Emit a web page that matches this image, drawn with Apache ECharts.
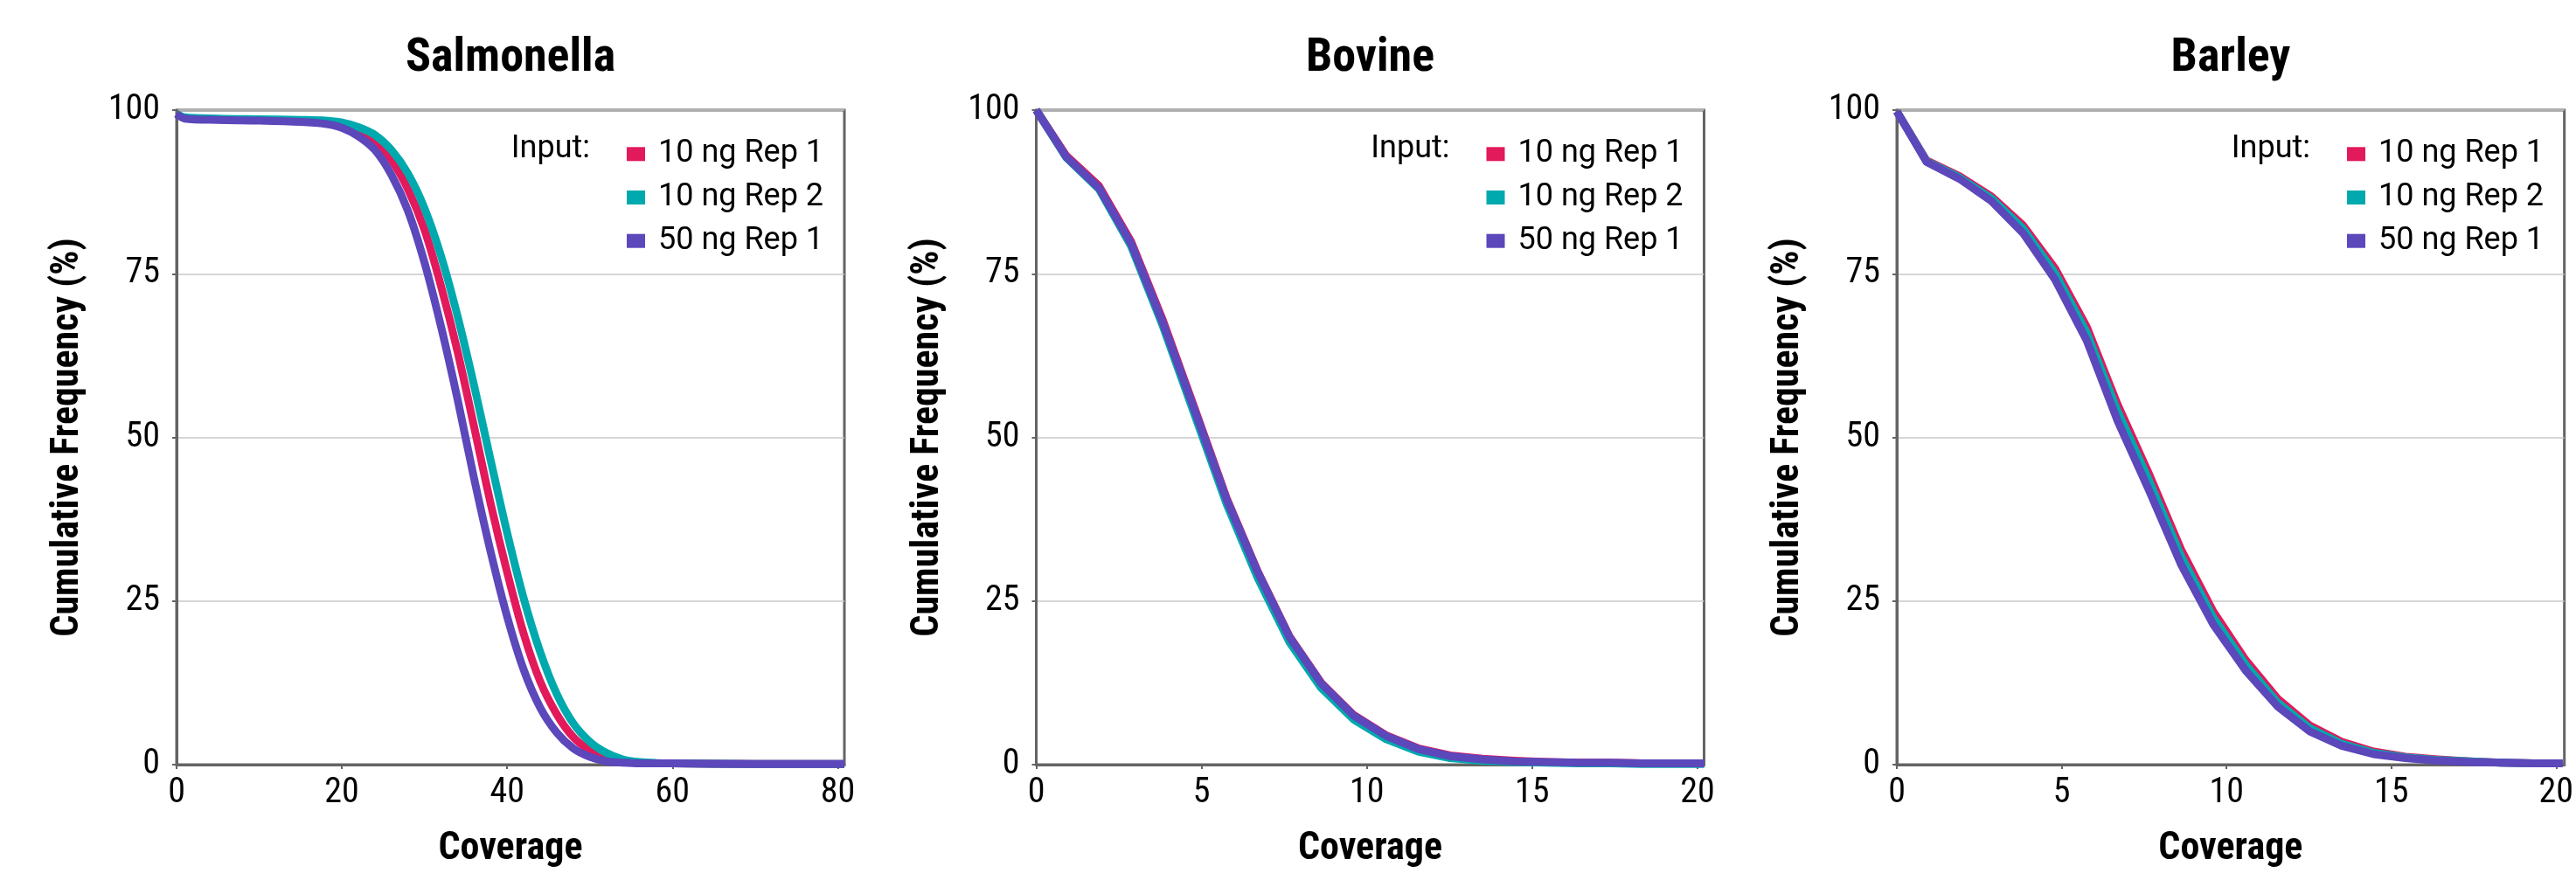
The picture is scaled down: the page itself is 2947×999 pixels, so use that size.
<!DOCTYPE html>
<html>
<head>
<meta charset="utf-8">
<title>Cumulative coverage</title>
<script src="https://cdn.jsdelivr.net/npm/echarts@6/dist/echarts.min.js"></script>
<style>
html, body { margin: 0; padding: 0; background: #fff; }
#main { width: 2947px; height: 999px; }
</style>
</head>
<body>
<div id="main"></div>
<script>
// panels and legend
var panelTitles = ['Salmonella', 'Bovine', 'Barley'];
var seriesNames = ['10 ng Rep 1', '10 ng Rep 2', '50 ng Rep 1'];
var seriesColors = ['#E2195B', '#00A9AD', '#5C47BB'];
var yTicks = [0, 25, 50, 75, 100];
var xMax = [80.8, 20.2, 20.25];
var xStep = [20, 5, 5];

// Salmonella (coverage, cumulative %)
var salmX = [0, 1, 5, 10, 15, 18, 20, 22, 24, 26, 28, 30, 32, 34, 36, 38, 40, 42, 44, 46, 48, 50, 52, 54, 56, 58, 60, 70, 80.8];
var salmRep1 = [99.4, 98.8, 98.6, 98.5, 98.4, 98.2, 97.8, 96.9, 95.3, 92.4, 87.9, 81.7, 73.1, 63.1, 51.6, 39.9, 29.4, 20.0, 12.7, 7.7, 4.2, 2.2, 1.0, 0.45, 0.3, 0.2, 0.2, 0.1, 0.1];
var salmRep2 = [99.4, 98.9, 98.7, 98.6, 98.5, 98.4, 98.1, 97.4, 96.2, 93.9, 90.3, 85.0, 77.7, 68.5, 57.9, 46.5, 35.4, 25.4, 17.2, 10.8, 6.3, 3.5, 1.8, 0.8, 0.4, 0.25, 0.2, 0.1, 0.1];
var salm50 = [99.4, 98.7, 98.5, 98.4, 98.2, 97.9, 97.3, 96.0, 93.9, 90.1, 84.6, 76.7, 66.9, 55.8, 43.7, 32.5, 22.6, 14.5, 8.7, 4.9, 2.5, 1.2, 0.5, 0.3, 0.2, 0.2, 0.2, 0.1, 0.1];

// Bovine / Barley share the same coverage points
var knotX = [0, 0.9, 1.9, 2.87, 3.83, 4.8, 5.76, 6.7, 7.66, 8.62, 9.6, 10.58, 11.55, 12.52, 13.49, 14.46, 15.43, 16.4, 17.37, 18.34, 19.31, 20.2];
var bovRep1 = [100, 93.1, 88.4, 79.9, 67.9, 54.3, 40.7, 29.5, 19.6, 12.5, 7.6, 4.5, 2.5, 1.4, 0.9, 0.6, 0.4, 0.3, 0.3, 0.2, 0.2, 0.2];
var bovRep2 = [100, 92.8, 87.9, 79.2, 67.0, 53.3, 39.8, 28.5, 18.7, 11.7, 6.9, 3.9, 2.0, 1.0, 0.6, 0.4, 0.3, 0.2, 0.2, 0.1, 0.1, 0.1];
var bov50 = [100, 92.9, 88.1, 79.6, 67.5, 54.0, 40.5, 29.4, 19.5, 12.4, 7.5, 4.4, 2.4, 1.3, 0.8, 0.5, 0.4, 0.3, 0.3, 0.2, 0.2, 0.2];

var barRep1 = [99.8, 92.3, 89.9, 86.8, 82.4, 75.8, 66.9, 55.0, 44.3, 32.9, 23.4, 16.0, 10.1, 6.0, 3.5, 2.0, 1.2, 0.8, 0.5, 0.3, 0.2, 0.2];
var barRep2 = [99.8, 92.2, 89.7, 86.5, 81.9, 75.1, 66.0, 54.0, 43.3, 31.9, 22.5, 15.3, 9.5, 5.6, 3.2, 1.8, 1.1, 0.7, 0.5, 0.3, 0.2, 0.2];
var bar50 = [99.8, 92.1, 89.5, 86.1, 81.2, 74.1, 64.8, 52.5, 41.8, 30.6, 21.4, 14.4, 8.9, 5.1, 2.9, 1.6, 1.0, 0.6, 0.4, 0.3, 0.2, 0.2];

var panelX = [salmX, knotX, knotX];
var panelY = [[salmRep1, salmRep2, salm50], [bovRep1, bovRep2, bov50], [barRep1, barRep2, bar50]];
var panelSmooth = [0.3, false, false];

var condFont = "'Roboto Condensed', 'Liberation Sans Narrow', 'Arial Narrow', Roboto, sans-serif";
var axisGray = '#646464';

var gridLeft = [202, 1185.5, 2170];
var gridTop = 126, gridW = 764, gridH = 750;

function pairs(xs, ys) {
    var out = [];
    for (var i = 0; i < xs.length; i++) {
        out.push([xs[i], ys[i]]);
    }
    return out;
}

var option = {
    animation: false,
    backgroundColor: '#fff',
    title: [], grid: [], xAxis: [], yAxis: [], legend: [], series: []
};

for (var p = 0; p < 3; p++) {
    var gl = gridLeft[p], gr = gl + gridW;
    option.grid.push({
        left: gl, top: gridTop, width: gridW, height: gridH,
        show: true, borderColor: axisGray, borderWidth: 3, backgroundColor: 'transparent'
    });
    option.title.push({
        text: panelTitles[p], left: gl + gridW / 2, top: 40, textAlign: 'center', padding: 0,
        textStyle: { fontFamily: condFont, fontWeight: 'bold', fontSize: 54, lineHeight: 54, color: '#000' }
    });
    option.title.push({
        text: 'Input:', left: gr - 291, top: 153.3, textAlign: 'right', padding: 0,
        textStyle: { fontFamily: 'Roboto', fontWeight: 'normal', fontSize: 36, lineHeight: 36, color: '#000' }
    });
    option.xAxis.push({
        type: 'value', gridIndex: p, min: 0, max: xMax[p], interval: xStep[p],
        name: 'Coverage', nameLocation: 'middle', nameGap: 75,
        nameTextStyle: { fontFamily: condFont, fontWeight: 'bold', fontSize: 44, lineHeight: 44, color: '#000' },
        axisLine: { show: true, onZero: false, lineStyle: { color: axisGray, width: 3 } },
        axisTick: { show: true, length: 5, lineStyle: { color: axisGray, width: 2 } },
        axisLabel: { fontFamily: condFont, fontSize: 40, lineHeight: 40, margin: 13, color: '#000', showMaxLabel: false },
        splitLine: { show: false }
    });
    option.yAxis.push({
        type: 'value', gridIndex: p, min: yTicks[0], max: yTicks[yTicks.length - 1], interval: 25,
        name: 'Cumulative Frequency (%)', nameLocation: 'middle', nameGap: 102, nameRotate: 90,
        nameTextStyle: { fontFamily: condFont, fontWeight: 'bold', fontSize: 44, lineHeight: 44, color: '#000' },
        axisLine: { show: true, lineStyle: { color: axisGray, width: 3 } },
        axisTick: { show: true, length: 5, lineStyle: { color: axisGray, width: 2 } },
        axisLabel: { fontFamily: condFont, fontSize: 40, lineHeight: 40, margin: 19, color: '#000' },
        splitLine: { show: true, lineStyle: { color: '#c8c8c8', width: 1.5 } }
    });
    option.legend.push({
        left: gr - 254, top: 153.3, orient: 'vertical', icon: 'rect',
        itemWidth: 21, itemHeight: 16, itemGap: 13.7, selectedMode: false,
        textStyle: { fontFamily: 'Roboto', fontSize: 36, lineHeight: 36, color: '#000', padding: [0, 0, 0, 10] },
        data: seriesNames
    });
    for (var s = 0; s < 3; s++) {
        option.series.push({
            name: seriesNames[s], type: 'line', xAxisIndex: p, yAxisIndex: p,
            data: pairs(panelX[p], panelY[p][s]),
            showSymbol: false, symbol: 'none',
            smooth: panelSmooth[p],
            color: seriesColors[s],
            lineStyle: { color: seriesColors[s], width: 9, join: 'round' }
        });
    }
}

var chart = echarts.init(document.getElementById('main'), null, { renderer: 'canvas' });
chart.setOption(option);
</script>
</body>
</html>
